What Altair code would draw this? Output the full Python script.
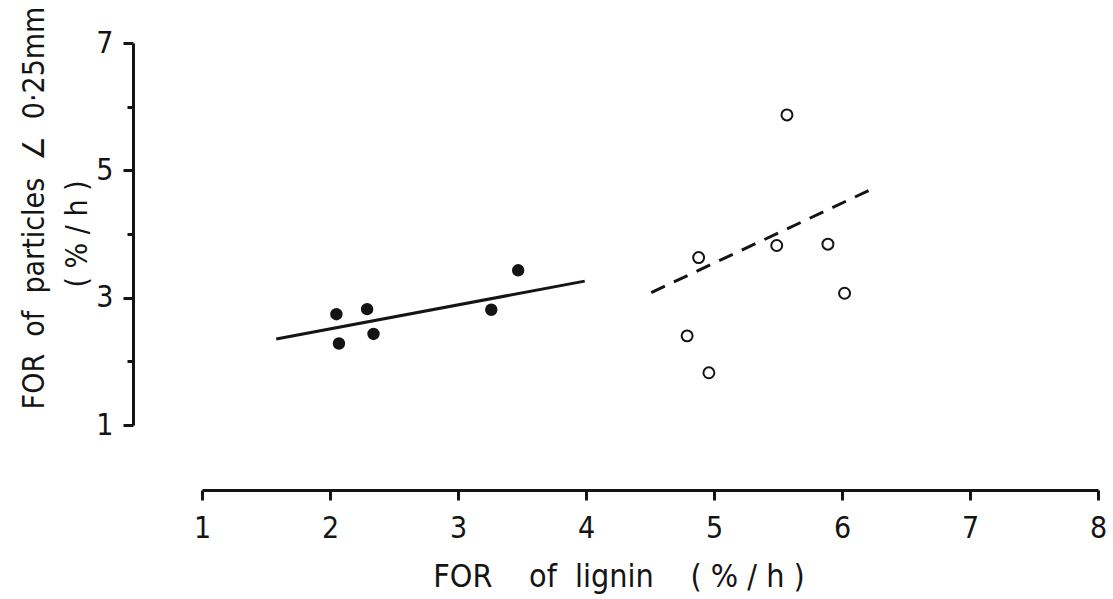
import altair as alt
import pandas as pd

# Filled circles: group measured at low lignin passage rates
filled_x = [2.05, 2.07, 2.29, 2.34, 3.26, 3.47]
filled_y = [2.74, 2.28, 2.82, 2.43, 2.81, 3.43]

# Open circles: group measured at high lignin passage rates
open_x = [4.79, 4.88, 4.96, 5.49, 5.57, 5.89, 6.02]
open_y = [2.40, 3.63, 1.82, 3.82, 5.87, 3.84, 3.07]

# Fitted regression lines (end points)
solid_x = [1.58, 3.99]
solid_y = [2.35, 3.26]
dashed_x = [4.51, 6.27]
dashed_y = [3.08, 4.74]

x_ticks = [1, 1.5, 2, 2.5, 3, 3.5, 4, 4.5, 5, 5.5, 6, 6.5, 7, 7.5, 8]
y_ticks = [1, 2, 3, 4, 5, 6, 7]

FONT = "Liberation Sans Narrow, DejaVu Sans Condensed, Liberation Sans, sans-serif"
INK = "#141414"
SP = "\u00a0"  # non-collapsing space for the wide lettering

W, H = 896, 382

filled_df = pd.DataFrame({"x": filled_x, "y": filled_y})
open_df = pd.DataFrame({"x": open_x, "y": open_y})
solid_df = pd.DataFrame({"x": solid_x, "y": solid_y})
dashed_df = pd.DataFrame({"x": dashed_x, "y": dashed_y})

xscale = alt.Scale(domain=[1, 8], nice=False, zero=False)
yscale = alt.Scale(domain=[1, 7], nice=False, zero=False)

x_axis = alt.Axis(
    title=None,
    values=x_ticks,
    format="d",
    offset=65,
    grid=False,
    domainColor=INK,
    domainWidth=3,
    tickColor=INK,
    tickWidth=3,
    tickSize={"condition": {"test": "datum.value % 1 !== 0", "value": 6}, "value": 10},
    labelExpr="datum.value % 1 === 0 ? datum.label : ''",
    labelOverlap=False,
    labelFont=FONT,
    labelFontSize=30,
    labelColor=INK,
    labelPadding=13,
    labelFlush=False,
)
y_axis = alt.Axis(
    title=None,
    values=y_ticks,
    format="d",
    offset=69,
    grid=False,
    domainColor=INK,
    domainWidth=3,
    tickColor=INK,
    tickWidth=3,
    tickSize={"condition": {"test": "datum.value % 2 === 0", "value": 6}, "value": 10},
    labelExpr="datum.value % 2 === 1 ? datum.label : ''",
    labelOverlap=False,
    labelFont=FONT,
    labelFontSize=30,
    labelColor=INK,
    labelPadding=10,
    labelFlush=False,
)

filled = alt.Chart(filled_df).mark_circle(size=154, color=INK, opacity=1).encode(
    x=alt.X("x:Q", scale=xscale, axis=x_axis),
    y=alt.Y("y:Q", scale=yscale, axis=y_axis),
)

hollow = alt.Chart(open_df).mark_point(
    shape="circle", size=120, filled=False, stroke=INK, strokeWidth=2, opacity=1
).encode(
    x=alt.X("x:Q", scale=xscale),
    y=alt.Y("y:Q", scale=yscale),
)

solid = alt.Chart(solid_df).mark_line(color=INK, strokeWidth=3).encode(
    x=alt.X("x:Q", scale=xscale),
    y=alt.Y("y:Q", scale=yscale),
)

dashed = alt.Chart(dashed_df).mark_line(
    color=INK, strokeWidth=3, strokeDash=[15, 10]
).encode(
    x=alt.X("x:Q", scale=xscale),
    y=alt.Y("y:Q", scale=yscale),
)

one = pd.DataFrame({"k": [0]})

y_title1 = alt.Chart(one).mark_text(
    text=f"FOR{SP*2}of{SP*2}particles{SP*2}\u2220{SP*2}0\u00b725mm",
    font=FONT, fontSize=30, color=INK, angle=270,
    align="center", baseline="middle",
).encode(x=alt.value(-167), y=alt.value(165))

y_title2 = alt.Chart(one).mark_text(
    text=f"({SP}%{SP}/{SP}h{SP})",
    font=FONT, fontSize=30, color=INK, angle=270,
    align="center", baseline="middle",
).encode(x=alt.value(-124), y=alt.value(191))

x_title = alt.Chart(one).mark_text(
    text=f"FOR{SP*4}of{SP*2}lignin{SP*4}({SP}%{SP}/{SP}h{SP})",
    font=FONT, fontSize=32, color=INK,
    align="center", baseline="middle",
).encode(x=alt.value(417), y=alt.value(534))

chart = alt.layer(
    solid, dashed, filled, hollow, y_title1, y_title2, x_title
).properties(
    width=W,
    height=H,
    padding={"left": 202, "top": 43, "right": 15, "bottom": 174},
    autosize=alt.AutoSizeParams(type="none"),
    background="white",
).configure_view(stroke=None)

chart.save("out.html", embed_options={"renderer": "svg", "actions": False})
